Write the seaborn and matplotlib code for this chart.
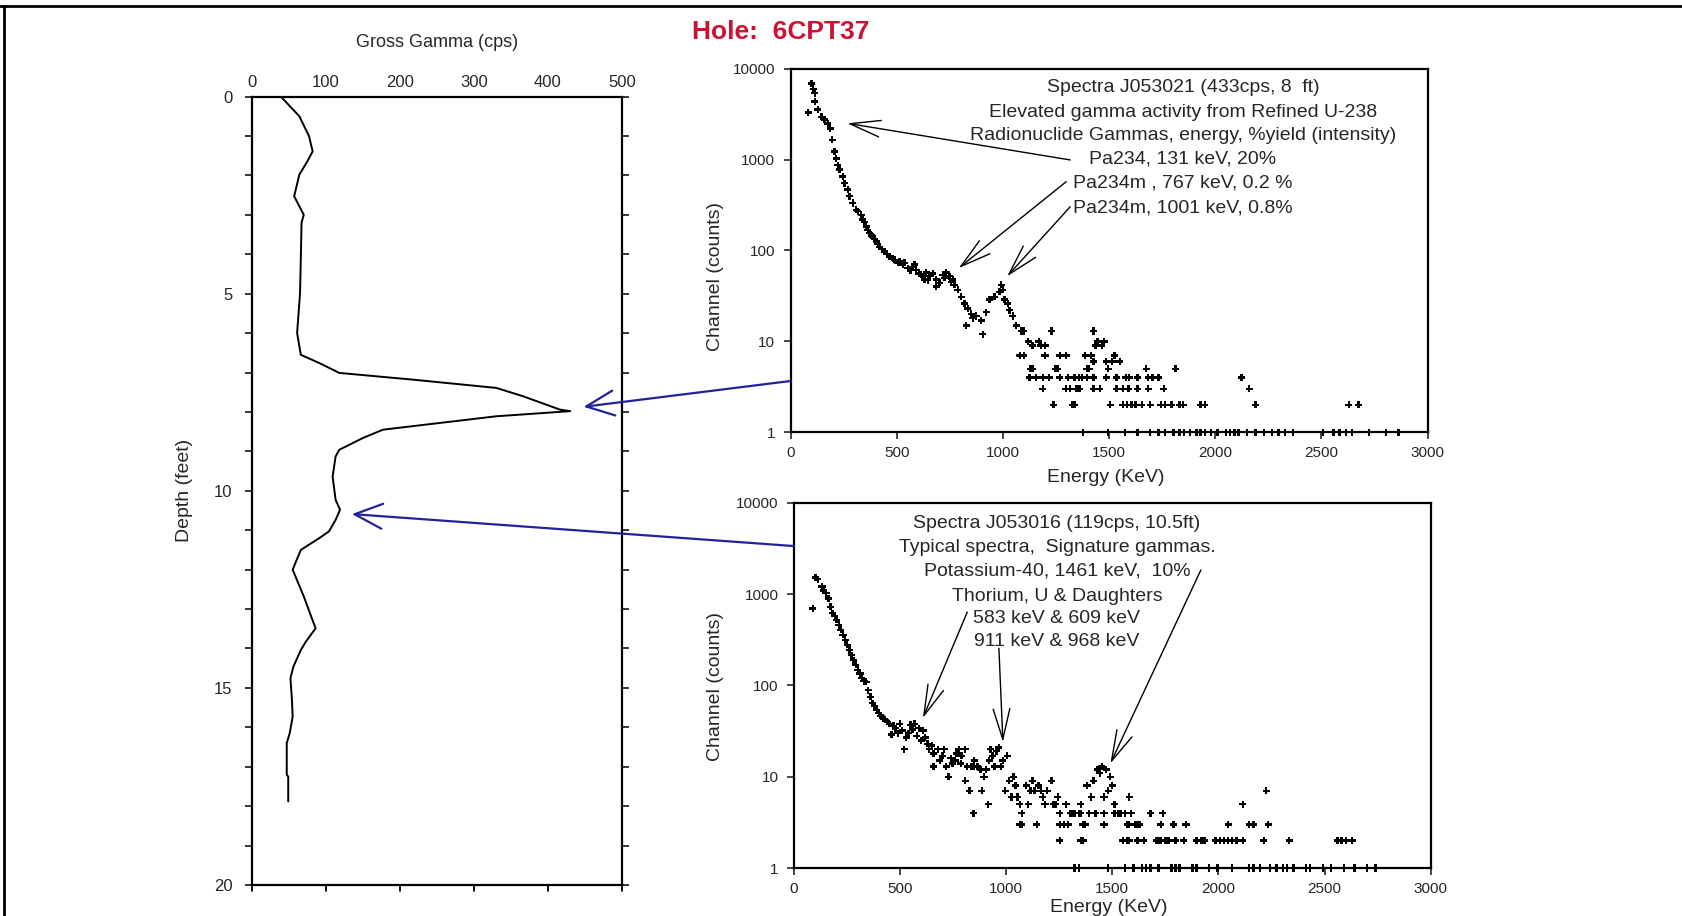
import matplotlib
matplotlib.use('Agg')
import numpy as np
import pandas as pd
import matplotlib.pyplot as plt
import seaborn as sns
from matplotlib.patches import ConnectionPatch
from matplotlib.lines import Line2D
from matplotlib.ticker import FixedLocator, NullFormatter

# ---- gross gamma log (hole 6CPT37) ----
gamma_depth_ft = [0, 0.5, 1.0, 1.39, 1.64, 1.98, 2.53, 3.0, 3.2, 4.98, 6.0, 6.55, 6.76, 7.01, 7.18,
                  7.39, 7.6, 7.94, 7.98, 8.11, 8.45, 8.66, 8.96, 9.13, 9.64, 10.23, 10.48, 10.74,
                  11.03, 11.2, 11.5, 12.0, 12.68, 13.49, 13.82, 14.04, 14.46, 14.75, 15.3, 15.73,
                  16.15, 16.4, 17.2, 17.25, 17.88]
gamma_cps = [39, 64, 77, 82, 75, 64, 57, 70, 67, 65, 61, 66, 91, 118, 217,
             330, 366, 416, 430, 330, 177, 150, 118, 113, 109, 113, 119, 113,
             104, 91, 66, 55, 70, 86, 73, 66, 56, 52, 54, 55,
             51, 47, 47, 49, 49]

# ---- spectrum J053021 (8 ft) ----
top_curve_kev = [83, 99, 106, 114, 114, 129, 145, 160, 176, 187, 196, 207, 215, 223, 231, 246, 254,
                 270, 278, 293, 309, 317, 333, 340, 348, 356, 364, 372, 380, 388, 395, 403, 411, 419,
                 431, 443, 454, 466, 482, 490, 505, 513, 529, 537, 553, 564, 576, 584, 592, 604, 615,
                 623, 631, 639, 647, 655, 670, 686, 686, 702, 717, 725, 733, 749, 756, 764, 772, 788,
                 804, 819, 827, 835, 851, 858, 874, 897, 905, 921, 937, 960, 984, 992, 999, 1007,
                 1023, 1031, 1046, 1062, 1086]
top_curve_counts = [3300, 6900, 6000, 5400, 4350, 3560, 2950, 2750, 2500, 2200, 1650, 1230, 1030, 870,
                    775, 650, 550, 470, 395, 333, 280, 270, 247, 219, 205, 184, 168, 155, 148, 142, 133,
                    125, 118, 110, 103, 97, 92, 86, 82, 79, 73, 76, 70, 73, 64, 61, 66, 70, 61, 56, 54,
                    52, 48, 57, 47, 52, 56, 48, 40, 44, 54, 50, 57, 52, 45, 48, 42, 37,
                    31, 26, 15, 23, 20, 18, 19, 17, 12, 21, 29, 31, 35, 42, 37, 29,
                    26, 22, 19, 15, 13]
top_row_counts = [13, 10, 9, 7, 6, 5, 4, 3, 2, 1]
top_row_kev = [
    [1089, 1099, 1228, 1426],
    [1119, 1169, 1446, 1476],
    [1139, 1179, 1198, 1436, 1466],
    [1079, 1099, 1198, 1268, 1297, 1387, 1416, 1525],
    [1426, 1486, 1515, 1551],
    [1129, 1139, 1248, 1258, 1396, 1406, 1496, 1674, 1813],
    [1125, 1155, 1188, 1218, 1268, 1307, 1337, 1357, 1373, 1396, 1426, 1486, 1535, 1579, 1595,
     1634, 1684, 1704, 1733, 2124],
    [1188, 1297, 1317, 1347, 1361, 1426, 1456, 1535, 1565, 1591, 1634, 1684, 1757, 2159],
    [1238, 1327, 1337, 1505, 1565, 1585, 1605, 1624, 1654, 1694, 1743, 1763, 1793, 1832, 1848,
     1931, 1951, 2189, 2629, 2675],
    [1377, 1496, 1575, 1634, 1694, 1733, 1763, 1803, 1832, 1852, 1882, 1912, 1931, 1951, 1981,
     2011, 2050, 2070, 2090, 2110, 2150, 2189, 2229, 2268, 2298, 2328, 2367, 2506, 2556, 2585,
     2615, 2645, 2724, 2803, 2863],
]

# ---- spectrum J053016 (10.5 ft) ----
bot_curve_kev = [90, 103, 113, 133, 140, 153, 163, 173, 183, 193, 202, 212, 222, 232, 242, 252, 262,
                 272, 282, 292, 302, 312, 321, 331, 341, 351, 361, 371, 380, 391, 400, 411, 420, 430,
                 440, 450, 460, 470, 480, 490, 500, 510, 520, 529, 540, 549, 560, 569, 580, 589, 600,
                 609, 619, 629, 638, 650, 658, 658, 678, 688, 700, 708, 718, 728, 740, 747, 760, 767,
                 777, 787, 790, 807, 807, 817, 837, 846, 850, 866, 880, 896, 906, 920, 926, 936, 946,
                 955, 965, 975, 985, 1005, 1015, 1035, 1124, 1213, 1411, 1431, 1441, 1451, 1471, 1490]
bot_curve_counts = [700, 1530, 1460, 1210, 1100, 1025, 900, 730, 620, 580, 525, 460, 406, 360, 315,
                    280, 245, 215, 190, 168, 148, 135, 120, 112, 110, 89, 75, 64, 60, 54, 50, 46, 44,
                    42, 40, 38, 29, 36, 34, 30, 38, 32, 20, 27, 30, 37, 33, 38, 28, 34, 25,
                    32, 27, 23, 20, 22, 18, 13, 20, 15, 17, 20, 13, 10, 16, 14, 15, 18,
                    20, 14, 17, 20, 9, 13, 13, 13, 15, 13, 12, 10, 12, 15, 20, 17, 13,
                    19, 21, 13, 15, 17, 9, 10, 9, 9, 9, 12, 11, 13, 12, 10]
bot_row_counts = [8, 7, 6, 5, 4, 3, 2, 1]
bot_row_kev = [
    [1045, 1094, 1153, 1381, 1500],
    [827, 886, 995, 1114, 1134, 1163, 1193, 1481, 2224],
    [1025, 1054, 1173, 1243, 1401, 1461, 1580],
    [916, 1064, 1104, 1183, 1223, 1233, 1282, 1352, 1510, 2115],
    [846, 1074, 1253, 1302, 1312, 1322, 1342, 1352, 1391, 1421, 1461, 1510, 1530, 1540, 1560,
     1589, 1679, 1738],
    [1064, 1074, 1144, 1253, 1273, 1292, 1362, 1372, 1461, 1570, 1580, 1609, 1619, 1629, 1728,
     1788, 1847, 2045, 2144, 2164, 2234],
    [1253, 1352, 1362, 1550, 1570, 1580, 1619, 1649, 1708, 1718, 1728, 1748, 1758, 1768, 1798,
     1837, 1897, 1917, 1926, 1936, 1986, 2006, 2025, 2045, 2065, 2085, 2115, 2214, 2333, 2560,
     2580, 2600, 2630],
    [1322, 1342, 1481, 1560, 1599, 1639, 1659, 1679, 1718, 1778, 1798, 1817, 1877, 1897, 1956,
     1996, 2065, 2144, 2164, 2194, 2244, 2273, 2303, 2323, 2353, 2412, 2432, 2491, 2531, 2590,
     2640, 2699, 2739],
]

# ---- annotation text and arrows (tail -> head, in keV / counts) ----
top_notes = ['Spectra J053021 (433cps, 8  ft)',
             'Elevated gamma activity from Refined U-238',
             'Radionuclide Gammas, energy, %yield (intensity)',
             'Pa234, 131 keV, 20%',
             'Pa234m , 767 keV, 0.2 %',
             'Pa234m, 1001 keV, 0.8%']
top_arrows = [((1317, 991), (267, 2508)),
              ((1298, 571), (792, 64)),
              ((1317, 303), (1020, 52))]
bot_notes = ['Spectra J053016 (119cps, 10.5ft)',
             'Typical spectra,  Signature gammas.',
             'Potassium-40, 1461 keV,  10%',
             'Thorium, U & Daughters',
             '583 keV & 609 keV',
             '911 keV & 968 keV']
bot_arrows = [((817, 638), (608, 44)),
              ((966, 256), (985, 24)),
              ((1917, 1845), (1491, 14))]


def spectrum_frame(curve_kev, curve_counts, row_counts, row_kev):
    '''curve points plus the low count rows -> one long dataframe'''
    kev = list(curve_kev)
    cnt = list(curve_counts)
    for c, row in zip(row_counts, row_kev):
        kev += row
        cnt += [c] * len(row)
    return pd.DataFrame({'energy': kev, 'counts': cnt})


def style_spectrum(ax, notes, arrows, text_pos, xlabel_y, ylabel_xy):
    ax.set_yscale('log')
    ax.set_xlim(0, 3000)
    ax.set_ylim(1, 10000)
    ax.yaxis.set_major_locator(FixedLocator([1, 10, 100, 1000, 10000]))
    ax.set_yticklabels(['1', '10', '100', '1000', '10000'])
    ax.yaxis.set_minor_formatter(NullFormatter())
    ax.tick_params(axis='y', which='minor', length=0)
    ax.set_xticks(range(0, 3001, 500))
    ax.tick_params(axis='both', which='major', direction='out', length=5, width=1.2,
                   labelsize=11, pad=5, left=True, bottom=True)
    ax.tick_params(axis='y', pad=6)
    ax.set_xlabel('Energy (KeV)', fontsize=14)
    ax.set_ylabel('Channel (counts)', fontsize=14)
    ax.xaxis.set_label_coords(0.495, xlabel_y)
    ax.yaxis.set_label_coords(ylabel_xy[0], ylabel_xy[1])
    for s in ax.spines.values():
        s.set_visible(True)
        s.set_color('black')
        s.set_linewidth(1.6)
    for i, line in enumerate(notes):
        ax.text(text_pos[0], text_pos[1][i], line, transform=ax.transAxes, ha='center',
                va='center', fontsize=14)
    for tail, head in arrows:
        ax.annotate('', xy=head, xytext=tail,
                    arrowprops=dict(arrowstyle='->,head_length=1.1,head_width=0.3',
                                    mutation_scale=20, lw=1.0, color='black',
                                    shrinkA=0, shrinkB=0))


sns.set_style('white')
plt.rcParams['font.family'] = ['Liberation Sans', 'DejaVu Sans']

fig = plt.figure(figsize=(16.82, 9.16), dpi=100)
ax_log = fig.add_axes([0.1498, 0.0338, 0.2200, 0.8608])
ax_top = fig.add_axes([0.4700, 0.5281, 0.3788, 0.3969])
ax_bot = fig.add_axes([0.4719, 0.0524, 0.3788, 0.3985])

# gamma log
log_df = pd.DataFrame({'depth': gamma_depth_ft, 'cps': gamma_cps})
sns.lineplot(data=log_df, x='cps', y='depth', sort=False, estimator=None, color='black',
             lw=1.4, ax=ax_log)
ax_log.set_xlim(0, 500)
ax_log.set_ylim(20, 0)
ax_log.xaxis.tick_top()
ax_log.set_xticks(range(0, 501, 100))
ax_log.tick_params(axis='x', which='major', top=True, bottom=False, length=0, labelsize=12, pad=5)
ax_log.xaxis.set_label_position('top')
ax_log.set_xlabel('Gross Gamma (cps)', fontsize=13)
ax_log.xaxis.set_label_coords(0.499, 1.063)
ax_log.set_yticks(range(0, 21, 5))
ax_log.set_yticks(range(0, 21), minor=True)
ax_log.tick_params(axis='y', which='both', left=True, right=True, direction='out', length=5,
                   width=1.3, labelsize=12, pad=9)
ax_log.set_ylabel('Depth (feet)', fontsize=14)
ax_log.yaxis.set_label_coords(-0.159, 0.501)
for s in ax_log.spines.values():
    s.set_visible(True)
    s.set_color('black')
    s.set_linewidth(1.6)
# bottom ticks without labels
for v in range(0, 501, 100):
    ax_log.plot([v, v], [20, 20.15], color='black', lw=1.3, clip_on=False)

# spectra
top_df = spectrum_frame(top_curve_kev, top_curve_counts, top_row_counts, top_row_kev)
bot_df = spectrum_frame(bot_curve_kev, bot_curve_counts, bot_row_counts, bot_row_kev)
for ax, df in [(ax_top, top_df), (ax_bot, bot_df)]:
    sns.scatterplot(data=df, x='energy', y='counts', marker='P', s=26, color='black',
                    edgecolor='none', ax=ax, clip_on=False, zorder=3)

style_spectrum(ax_top, top_notes, top_arrows,
               (0.616, [0.947, 0.879, 0.815, 0.751, 0.685, 0.618]), -0.10, (-0.1045, 0.428))
style_spectrum(ax_bot, bot_notes, bot_arrows,
               (0.413, [0.944, 0.879, 0.814, 0.745, 0.684, 0.620]), -0.085, (-0.1095, 0.497))

# blue arrows linking spectra to the depth log
for src_ax, src_y, head in [(ax_top, 0.141, (448, 7.87)), (ax_bot, 0.882, (135, 10.59))]:
    con = ConnectionPatch(xyA=(0, src_y), coordsA=src_ax.transAxes, xyB=head,
                          coordsB=ax_log.transData,
                          arrowstyle='->,head_length=1.0,head_width=0.45', mutation_scale=20,
                          color='#22229a', lw=1.6, shrinkA=0, shrinkB=0)
    fig.add_artist(con)

fig.text(0.4643, 0.9648, 'Hole:  6CPT37', color='#cc1133', fontsize=19, fontweight='bold',
         ha='center', va='center')

# page frame
fig.add_artist(Line2D([0, 1], [0.9935, 0.9935], color='black', lw=2, transform=fig.transFigure))
fig.add_artist(Line2D([0.0024, 0.0024], [0, 0.9935], color='black', lw=2,
                      transform=fig.transFigure))

fig.savefig('out.png', dpi=100)
